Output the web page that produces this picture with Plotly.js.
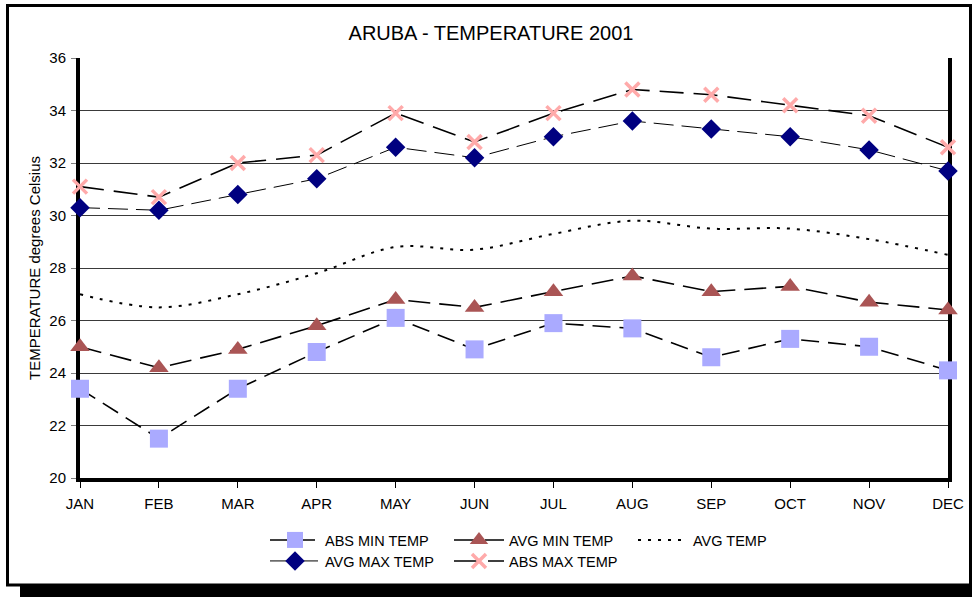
<!DOCTYPE html>
<html>
<head>
<meta charset="utf-8">
<script src="https://cdn.plot.ly/plotly-3.0.1.min.js"></script>
<style>
  html, body { margin: 0; padding: 0; background: #fff; }
  #chart { width: 972px; height: 597px; }
</style>
</head>
<body>
<div id="chart"></div>
<script>
// Monthly temperatures for Aruba, 2001 (degrees Celsius)
const months = ['JAN', 'FEB', 'MAR', 'APR', 'MAY', 'JUN', 'JUL', 'AUG', 'SEP', 'OCT', 'NOV', 'DEC'];
const absMinTemp = [23.4, 21.5, 23.4, 24.8, 26.1, 24.9, 25.9, 25.7, 24.6, 25.3, 25.0, 24.1];
const avgMinTemp = [25.0, 24.2, 24.9, 25.8, 26.8, 26.5, 27.1, 27.7, 27.1, 27.3, 26.7, 26.4];
const avgTemp    = [27.0, 26.5, 27.0, 27.8, 28.8, 28.7, 29.3, 29.8, 29.5, 29.5, 29.1, 28.5];
const avgMaxTemp = [30.3, 30.2, 30.8, 31.4, 32.6, 32.2, 33.0, 33.6, 33.3, 33.0, 32.5, 31.7];
const absMaxTemp = [31.1, 30.7, 32.0, 32.3, 33.9, 32.8, 33.9, 34.8, 34.6, 34.2, 33.8, 32.6];
const yTicks = [20, 22, 24, 26, 28, 30, 32, 34, 36];

const W = 972, H = 597;
const M = { l: 80, r: 24, t: 58, b: 119 };
const PW = W - M.l - M.r, PH = H - M.t - M.b;
// pixel -> paper coordinates helpers for frame shapes and legends
const px = x => (x - M.l) / PW;
const py = y => (H - M.b - y) / PH;

const font = 'Arial, "Liberation Sans", sans-serif';

const traces = [
  {
    name: 'ABS MIN TEMP', x: months, y: absMinTemp, mode: 'lines+markers', cliponaxis: false,
    line: { color: '#000', width: 1.6, dash: '18px,9px' },
    marker: { symbol: 'square', size: 18, color: '#aaaaff' },
    legend: 'legend'
  },
  {
    name: 'AVG MIN TEMP', x: months, y: avgMinTemp, mode: 'lines+markers', cliponaxis: false,
    line: { color: '#000', width: 1.6, dash: '22px,9px' },
    marker: { symbol: 'triangle-up', size: 17, color: '#aa5555' },
    legend: 'legend'
  },
  {
    name: 'AVG TEMP', x: months, y: avgTemp, mode: 'lines', cliponaxis: false,
    line: { color: '#000', width: 2, dash: '3px,7px', shape: 'spline', smoothing: 1 },
    legend: 'legend'
  },
  {
    name: 'AVG MAX TEMP', x: months, y: avgMaxTemp, mode: 'lines+markers', cliponaxis: false,
    line: { color: '#000', width: 1, dash: '20px,8px' },
    marker: { symbol: 'diamond', size: 15, color: '#000080' },
    legend: 'legend2'
  },
  {
    name: 'ABS MAX TEMP', x: months, y: absMaxTemp, mode: 'lines+markers', cliponaxis: false,
    line: { color: '#000', width: 1.6, dash: '24px,10px' },
    marker: { symbol: 'x-thin', size: 14, color: '#ffaaaa', line: { color: '#ffaaaa', width: 3.5 } },
    legend: 'legend2'
  }
];

const legendStyle = {
  orientation: 'h',
  xanchor: 'left', yanchor: 'middle',
  entrywidth: 119, entrywidthmode: 'pixels',
  itemwidth: 50,
  bgcolor: 'rgba(0,0,0,0)',
  borderwidth: 0,
  font: { family: font, size: 14.5, color: '#000' }
};

const layout = {
  width: W, height: H,
  margin: M,
  paper_bgcolor: '#fff',
  plot_bgcolor: '#fff',
  title: {
    text: 'ARUBA - TEMPERATURE 2001',
    font: { family: font, size: 20, color: '#000' },
    x: 491 / W, xref: 'container', xanchor: 'center',
    y: 1 - 33 / H, yref: 'container', yanchor: 'middle'
  },
  xaxis: {
    type: 'category',
    range: [0, months.length - 1],
    showgrid: false,
    zeroline: false,
    showline: true, linecolor: '#000', linewidth: 4,
    ticks: 'outside', ticklen: 6, tickwidth: 1, tickcolor: '#000',
    ticklabelstandoff: 3,
    tickfont: { family: font, size: 15, color: '#000' },
    layer: 'below traces',
    fixedrange: true
  },
  yaxis: {
    range: [20, 36],
    tickvals: yTicks,
    ticktext: yTicks.map(String),
    showgrid: true, gridcolor: '#3a3a3a', gridwidth: 1,
    zeroline: false,
    showline: true, mirror: true, linecolor: '#000', linewidth: 4,
    ticks: 'outside', ticklen: 5, tickwidth: 1, tickcolor: '#808080',
    ticklabelstandoff: 2,
    tickfont: { family: font, size: 15, color: '#000' },
    title: { text: 'TEMPERATURE degrees Celsius', font: { family: font, size: 15, color: '#000' }, standoff: 6 },
    layer: 'below traces',
    fixedrange: true
  },
  showlegend: true,
  legend: Object.assign({}, legendStyle, { x: px(265), y: py(540) }),
  legend2: Object.assign({}, legendStyle, { x: px(265), y: py(561) }),
  shapes: [
    // drop shadow of the chart frame
    { type: 'rect', xref: 'paper', yref: 'paper', layer: 'below',
      x0: px(20), x1: px(985), y0: py(597), y1: py(586),
      fillcolor: '#000', line: { width: 0 } },
    // chart frame
    { type: 'rect', xref: 'paper', yref: 'paper', layer: 'below',
      x0: px(7.5), x1: px(970.5), y0: py(585), y1: py(5.5),
      fillcolor: 'rgba(0,0,0,0)', line: { color: '#000', width: 3 } }
  ]
};

Plotly.newPlot('chart', traces, layout, { displayModeBar: false, staticPlot: true });
</script>
</body>
</html>
